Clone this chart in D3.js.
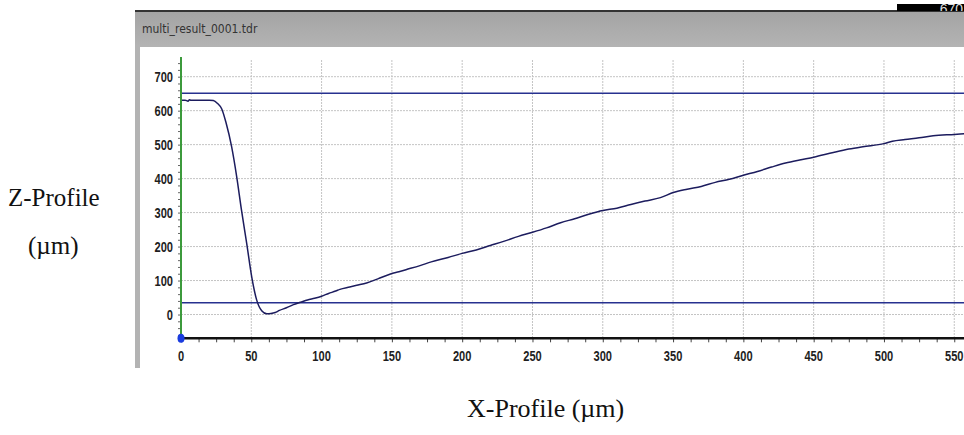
<!DOCTYPE html>
<html>
<head>
<meta charset="utf-8">
<script src="https://cdn.jsdelivr.net/npm/d3@7"></script>
<style>
  body { margin: 0; background: #fff; }
  svg { display: block; }
  .tick-lbl { font-family: "Liberation Sans", Arial, sans-serif; font-weight: bold; font-size: 15px; fill: #1e1e1e; }
  .serif { font-family: "Liberation Serif", "Times New Roman", serif; fill: #111; }
</style>
</head>
<body>
<svg id="chart" width="964" height="435"></svg>
<script>
// profile
let xPos = [0, 3, 5, 6, 7, 10, 15, 20, 23, 26, 29, 32, 36, 39.6, 43, 46.7, 50.3, 53.8, 57.4, 61, 64, 67, 70, 75, 80, 85, 90, 95,
  100, 105, 110, 113, 120, 125, 132, 140, 149, 155, 160, 170, 178, 190, 200, 210, 220, 230, 240, 250, 260, 270, 280, 290,
  300, 310, 320, 330, 341, 350, 360, 370, 380, 390, 400, 410, 420, 430, 440, 450, 464, 475, 485, 500, 506, 515, 525, 535, 550, 557];
let zPos = [631, 631, 628, 632, 631, 631, 631, 631, 630, 621, 605, 565, 494, 406, 308, 210, 111, 43, 11, 2, 3, 6, 12, 20, 29, 36, 43, 48,
  54, 62, 69, 74, 81, 86, 93, 105, 119, 126, 132, 144, 155, 168, 180, 190, 203, 216, 230, 242, 255, 270, 282, 295,
  306, 313, 324, 334, 344, 359, 369, 377, 389, 398, 410, 421, 434, 446, 455, 463, 477, 487, 494, 503, 510, 515, 520, 526, 530, 532];

let refLines = [651, 35];
let yTicks = [0, 100, 200, 300, 400, 500, 600, 700];
let xTicks = [0, 50, 100, 150, 200, 250, 300, 350, 400, 450, 500, 550];
let titleText = "multi_result_0001.tdr";

let svg = d3.select("#chart");

let x = d3.scaleLinear().domain([0, 557]).range([181, 964.1]);
let y = d3.scaleLinear().domain([-70, 750]).range([338.3, 59.7]);

// window frame
let defs = svg.append("defs");
let grad = defs.append("linearGradient").attr("id", "bar").attr("x1", 0).attr("x2", 0).attr("y1", 0).attr("y2", 1);
grad.append("stop").attr("offset", "0%").attr("stop-color", "#a4a4a4");
grad.append("stop").attr("offset", "100%").attr("stop-color", "#b3b3b3");
defs.append("clipPath").attr("id", "boxclip").append("rect")
  .attr("x", 897).attr("y", 4).attr("width", 67).attr("height", 7);

svg.append("rect").attr("x", 135).attr("y", 11).attr("width", 829).attr("height", 357).attr("fill", "#b3b3b3");
svg.append("rect").attr("x", 135).attr("y", 12).attr("width", 829).attr("height", 34).attr("fill", "url(#bar)");
svg.append("rect").attr("x", 140).attr("y", 47).attr("width", 824).attr("height", 321).attr("fill", "#fff");
svg.append("line").attr("x1", 135).attr("x2", 964).attr("y1", 11).attr("y2", 11).attr("stroke", "#333").attr("stroke-width", 2);
svg.append("rect").attr("x", 897).attr("y", 4).attr("width", 67).attr("height", 7).attr("fill", "#000");
svg.append("text").attr("clip-path", "url(#boxclip)")
  .attr("x", 963).attr("y", 14).attr("text-anchor", "end")
  .attr("font-family", "'Liberation Sans', sans-serif").attr("font-size", 14).attr("fill", "#ddd")
  .text("670");

svg.append("text")
  .attr("x", 142).attr("y", 33)
  .attr("font-family", "'Liberation Sans Narrow', 'DejaVu Sans Condensed', sans-serif")
  .attr("font-size", 12).attr("fill", "#333")
  .text(titleText);

// grid
let grid = svg.append("g").attr("stroke", "#c4c4c4").attr("stroke-dasharray", "2,1").attr("stroke-width", 1);
grid.selectAll(".hg").data(yTicks).enter().append("line")
  .attr("x1", x(0)).attr("x2", 964).attr("y1", d => y(d)).attr("y2", d => y(d));
grid.selectAll(".vg").data(xTicks.filter(d => d > 0)).enter().append("line")
  .attr("x1", d => x(d)).attr("x2", d => x(d)).attr("y1", 60).attr("y2", y(-70));

// reference lines
svg.selectAll(".ref").data(refLines).enter().append("line")
  .attr("x1", x(0)).attr("x2", 964)
  .attr("y1", d => y(d)).attr("y2", d => y(d))
  .attr("stroke", "#27318f").attr("stroke-width", 1.5);

// profile
let line = d3.line().x((d, i) => x(xPos[i])).y(d => y(d)).curve(d3.curveMonotoneX);
svg.append("path").datum(zPos)
  .attr("d", line)
  .attr("fill", "none").attr("stroke", "#1c1c5e").attr("stroke-width", 1.5);

// y axis
let yAxis = d3.axisLeft(y).tickValues(d3.range(-60, 751, 20)).tickSize(3).tickFormat("");
let yg = svg.append("g").attr("transform", `translate(${x(0)},0)`).call(yAxis);
yg.select(".domain").remove();
yg.selectAll("line").attr("stroke", "#666");
svg.append("line").attr("x1", x(0)).attr("x2", x(0)).attr("y1", 57).attr("y2", y(-70))
  .attr("stroke", "#3c9a3c").attr("stroke-width", 2);
svg.selectAll(".ylbl").data(yTicks).enter().append("text")
  .attr("class", "tick-lbl")
  .attr("transform", d => `translate(${x(0) - 8},${y(d) + 5}) scale(0.74,1)`)
  .attr("text-anchor", "end")
  .text(d => d);

// x axis
let minor = d3.range(0, 557, 12.5);
let xg = svg.append("g").attr("transform", `translate(0,${y(-70)})`)
  .call(d3.axisBottom(x).tickValues(minor).tickSize(4).tickFormat(""));
xg.select(".domain").remove();
xg.selectAll("line").attr("stroke", "#444");
svg.append("line").attr("x1", x(0)).attr("x2", 964).attr("y1", y(-70)).attr("y2", y(-70))
  .attr("stroke", "#111").attr("stroke-width", 2.5);
svg.selectAll(".xlbl").data(xTicks).enter().append("text")
  .attr("class", "tick-lbl")
  .attr("transform", d => `translate(${x(d)},${y(-70) + 23}) scale(0.74,1)`)
  .attr("text-anchor", "middle")
  .text(d => d);

svg.append("ellipse").attr("cx", x(0)).attr("cy", y(-70)).attr("rx", 3.5).attr("ry", 4.5).attr("fill", "#1a3ce0");

// outer labels
svg.append("text").attr("class", "serif").attr("x", 8).attr("y", 206).attr("font-size", 25).text("Z-Profile");
svg.append("text").attr("class", "serif").attr("x", 28).attr("y", 254).attr("font-size", 25).text("(µm)");
svg.append("text").attr("class", "serif").attr("x", 467).attr("y", 417).attr("font-size", 26).text("X-Profile (µm)");
</script>
</body>
</html>
